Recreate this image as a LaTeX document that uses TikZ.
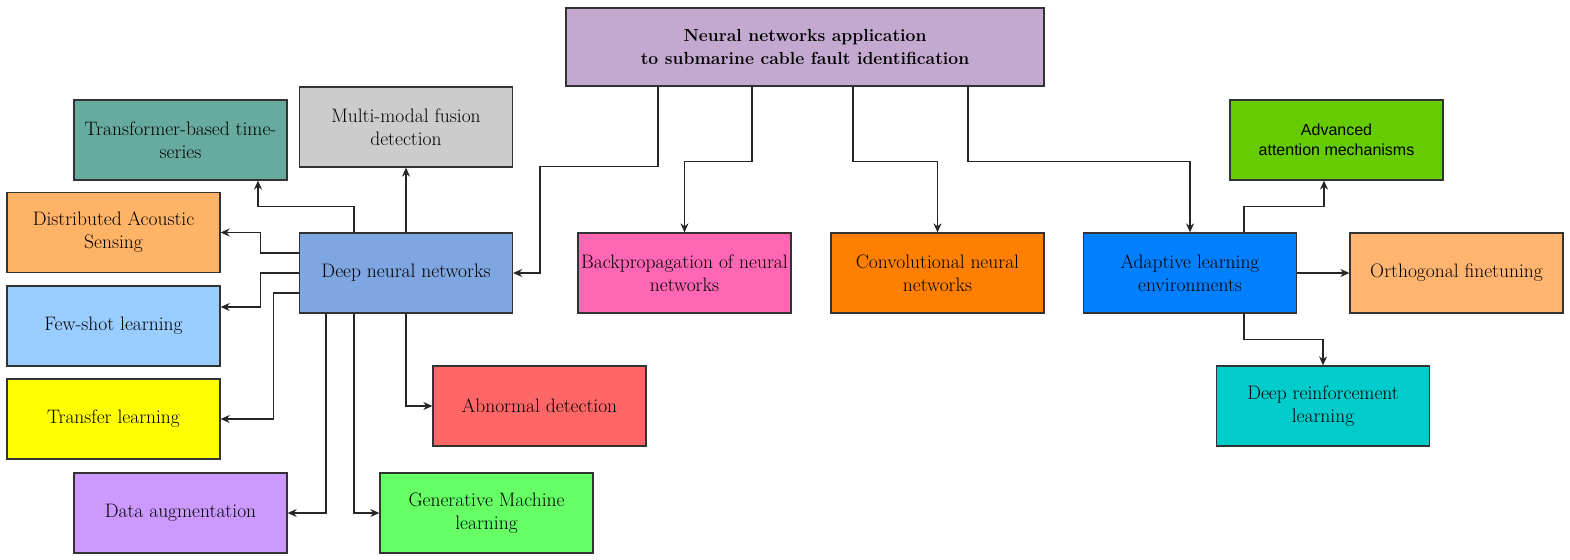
\documentclass[tikz,border=0pt]{standalone}
\usepackage{fontspec}
\newfontfamily\sansA{Liberation Sans}
\usetikzlibrary{arrows.meta,calc}
\definecolor{cTop}{HTML}{C3A9CF}
\definecolor{cTrans}{HTML}{67AB9F}
\definecolor{cMulti}{HTML}{CCCCCC}
\definecolor{cDist}{HTML}{FFB366}
\definecolor{cFew}{HTML}{99CCFF}
\definecolor{cTransfer}{HTML}{FFFF00}
\definecolor{cData}{HTML}{CC99FF}
\definecolor{cGen}{HTML}{66FF66}
\definecolor{cAbn}{HTML}{FF6666}
\definecolor{cDeep}{HTML}{7EA6E0}
\definecolor{cBack}{HTML}{FF66B3}
\definecolor{cConv}{HTML}{FF8000}
\definecolor{cAdapt}{HTML}{007FFF}
\definecolor{cAdv}{HTML}{66CC00}
\definecolor{cOrth}{HTML}{FFB570}
\definecolor{cDrl}{HTML}{00CCCC}
\definecolor{cLine}{HTML}{333333}
\begin{document}
\begin{tikzpicture}[x=1pt,y=-1pt,
  box/.style={draw=cLine, line width=1.3pt, rectangle, minimum width=213pt, minimum height=80pt,
    inner sep=1pt, align=center, font=\fontsize{19.5}{23}\selectfont, text=black},
  arr/.style={draw=black!85, line width=1.2pt, -{Stealth[length=9pt,width=8pt]}}]
\useasboundingbox (0,0) rectangle (1570,559);
\node[box, fill=cTop, minimum width=478pt, minimum height=78pt, font=\bfseries\fontsize{17.5}{23}\selectfont] (top) at (805,47) {Neural networks application\\to submarine cable fault identification};
\node[box, fill=cTrans] (trans) at (180.5,140) {Transformer-based time-\\series};
\node[box, fill=cMulti] (multi) at (406,127) {Multi-modal fusion\\detection};
\node[box, fill=cDist] (dist) at (113.5,232.5) {Distributed Acoustic\\Sensing};
\node[box, fill=cFew] (few) at (113.5,326) {Few-shot learning};
\node[box, fill=cTransfer] (transfer) at (113.5,419) {Transfer learning};
\node[box, fill=cData] (data) at (180.5,513) {Data augmentation};
\node[box, fill=cGen] (gen) at (486.5,513) {Generative Machine\\learning};
\node[box, fill=cAbn] (abn) at (539.5,406) {Abnormal detection};
\node[box, fill=cDeep] (deep) at (406,273) {Deep neural networks};
\node[box, fill=cBack] (back) at (684.5,273) {Backpropagation of neural\\networks};
\node[box, fill=cConv] (conv) at (937.5,273) {Convolutional neural\\networks};
\node[box, fill=cAdapt] (adapt) at (1190,273) {Adaptive learning\\environments};
\node[box, fill=cAdv, font=\sansA\fontsize{16}{20}\selectfont] (adv) at (1336.5,140) {Advanced\\attention mechanisms};
\node[box, fill=cOrth] (orth) at (1456.5,273) {Orthogonal finetuning};
\node[box, fill=cDrl] (drl) at (1323,406) {Deep reinforcement\\learning};
% from top
\draw[arr] ([xshift=-147pt]top.south) -- ++(0,80) -| (540,200) |- (deep.east);
\draw[arr] ([xshift=-53pt]top.south) -- ++(0,75) -| (back.north);
\draw[arr] ([xshift=48pt]top.south) -- ++(0,75) -| (conv.north);
\draw[arr] ([xshift=163pt]top.south) -- ++(0,75) -| (adapt.north);
% adaptive
\draw[arr] ([xshift=54pt]adapt.north) -- ++(0,-26) -| ([xshift=-12.5pt]adv.south);
\draw[arr] (adapt.east) -- (orth.west);
\draw[arr] ([xshift=54pt]adapt.south) -- ++(0,26) -| (drl.north);
% deep
\draw[arr] ([xshift=-52pt]deep.north) -- ++(0,-26) -| ([xshift=77.5pt]trans.south);
\draw[arr] (deep.north) -- (multi.south);
\draw[arr] ([yshift=20pt]deep.west) -- ++(-38,0) |- (dist.east);
\draw[arr] (deep.west) -- ++(-38,0) |- ([yshift=19pt]few.east);
\draw[arr] ([yshift=-20pt]deep.west) -- ++(-25,0) |- (transfer.east);
\draw[arr] ([xshift=-80pt]deep.south) |- (data.east);
\draw[arr] ([xshift=-52pt]deep.south) |- (gen.west);
\draw[arr] (deep.south) |- (abn.west);
\end{tikzpicture}
\end{document}
